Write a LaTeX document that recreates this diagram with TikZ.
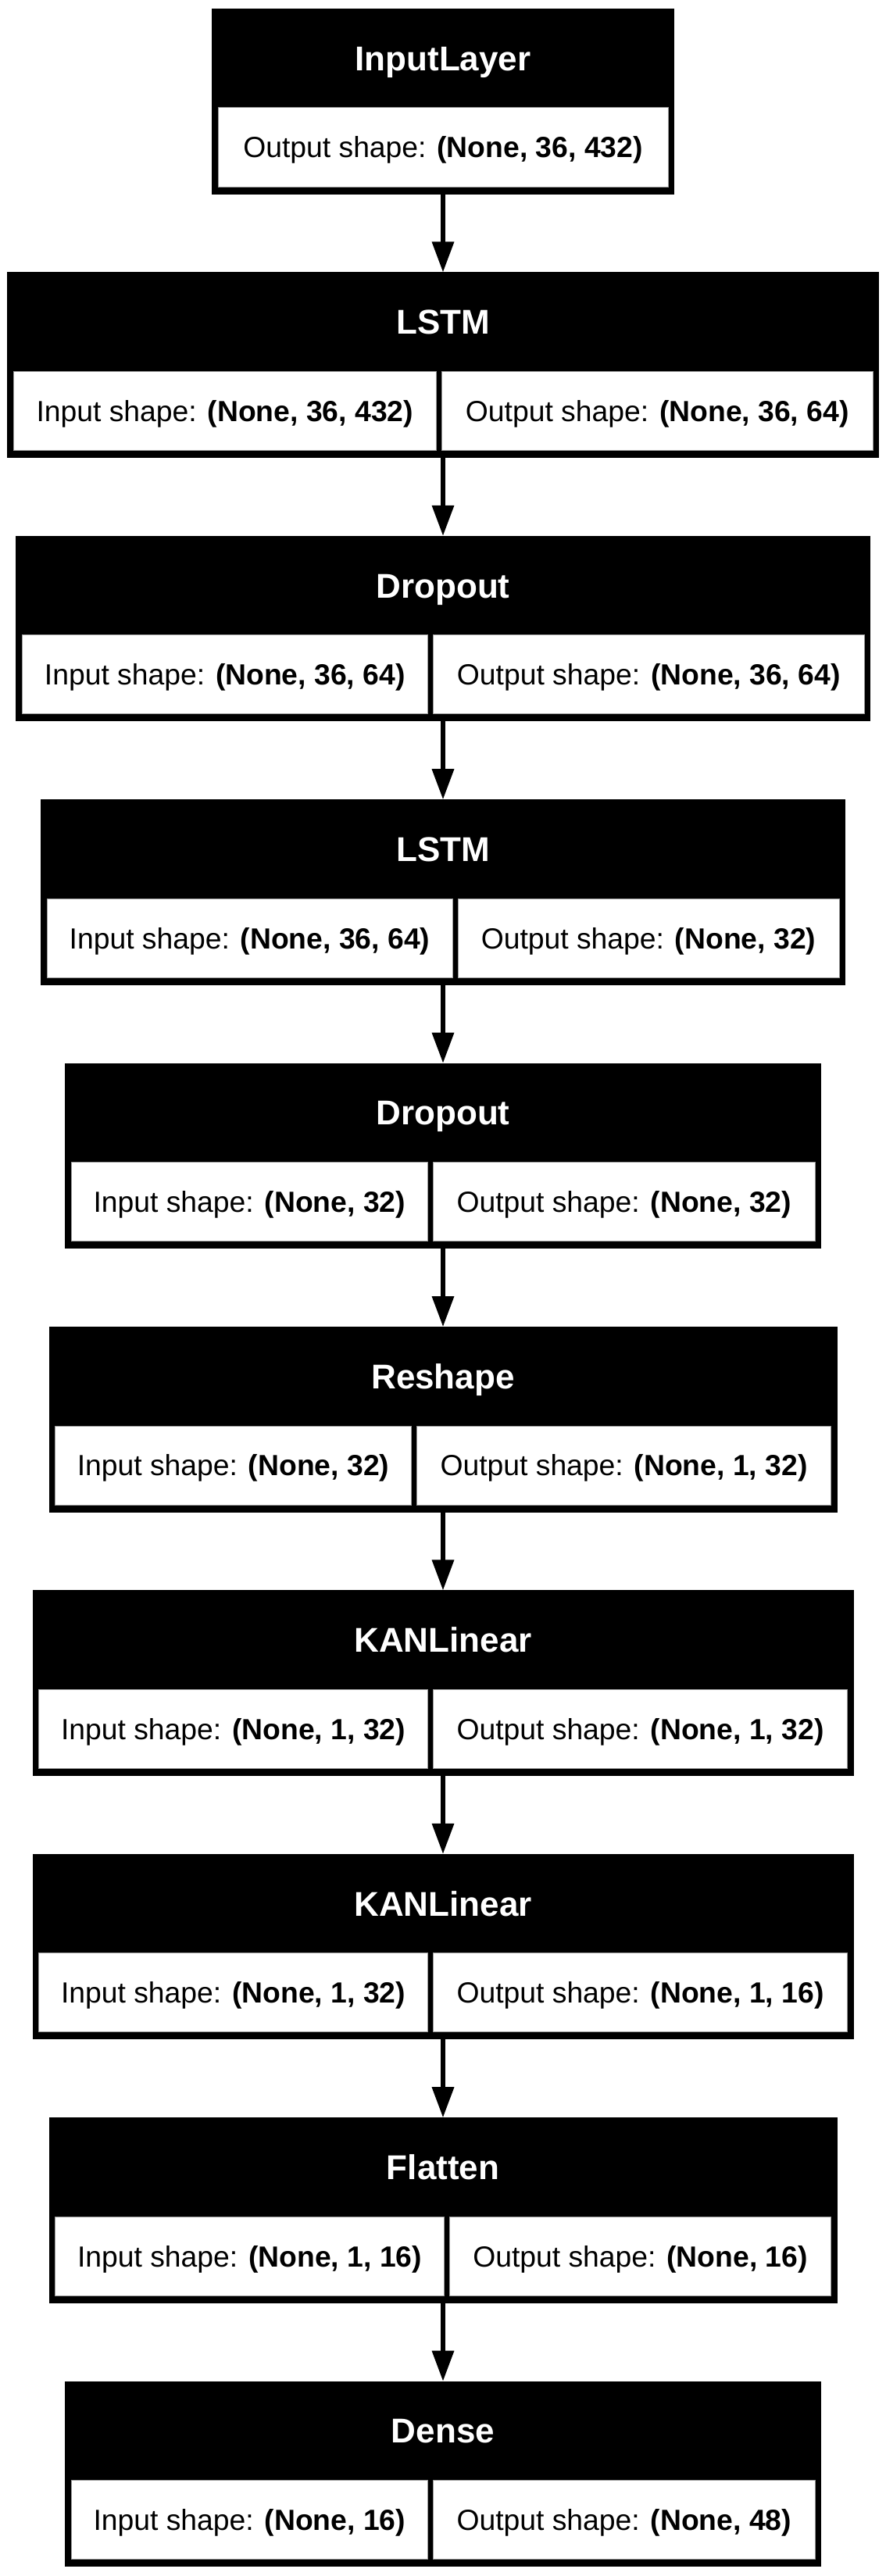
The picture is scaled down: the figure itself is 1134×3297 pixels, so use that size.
\documentclass[tikz,border=0pt]{standalone}
\usepackage{fontspec}
\setmainfont{Liberation Sans}
\usetikzlibrary{arrows.meta}
\newdimen\pxu \pxu=0.5pt
\tikzset{
  layerframe/.style={fill=black, draw=none, inner sep=0pt, outer sep=0pt, anchor=north west},
  layertitle/.style={text=white, font=\fontsize{22pt}{26pt}\selectfont\bfseries, inner sep=0pt, text height=15.75pt, text depth=0pt},
  shapecell/.style={fill=white, draw=black!40, line width=0.5pt, inner sep=0pt, outer sep=0pt, anchor=north west,
    font=\fontsize{18.65pt}{22pt}\selectfont, text height=13.4pt, text depth=0pt},
  flow/.style={line width=2.65pt, -{Triangle[length=19.5pt, width=13.7pt]}},
}
\newcommand\twocell[7]{% name, index, halfwidth, divider x, title, left text, right text
  \pgfmathsetmacro\tp{11+337.4*#2}
  \pgfmathsetmacro\lx{567-#3}
  \node[layerframe, minimum width=2*#3*\pxu, minimum height=237.5*\pxu] (#1) at (\lx,\tp) {};
  \node[layertitle] (#1-t) at (567,\tp+63.5) {#5};
  \node[shapecell, minimum width=(#4-3.5-\lx-8)*\pxu, minimum height=101*\pxu] (#1-in) at (\lx+8,\tp+127) {#6};
  \node[shapecell, minimum width=(567+#3-8-#4-3.5)*\pxu, minimum height=101*\pxu] (#1-out) at (#4+3.5,\tp+127) {#7};
}
\newcommand\onecell[5]{% name, index, halfwidth, title, text
  \pgfmathsetmacro\tp{11+337.4*#2}
  \pgfmathsetmacro\lx{567-#3}
  \node[layerframe, minimum width=2*#3*\pxu, minimum height=237.5*\pxu] (#1) at (\lx,\tp) {};
  \node[layertitle] (#1-t) at (567,\tp+63.5) {#4};
  \node[shapecell, minimum width=(2*#3-16)*\pxu, minimum height=101*\pxu] (#1-out) at (\lx+8,\tp+127) {#5};
}
\begin{document}
\begin{tikzpicture}[x=0.5pt, y=-0.5pt]
\useasboundingbox[fill=white] (0,0) rectangle (1134,3297);
\onecell{b0}{0}{296}{InputLayer}{Output shape: \textbf{(None, 36, 432)}}
\twocell{b1}{1}{558}{562}{LSTM}{Input shape: \textbf{(None, 36, 432)}}{Output shape: \textbf{(None, 36, 64)}}
\twocell{b2}{2}{547}{551}{Dropout}{Input shape: \textbf{(None, 36, 64)}}{Output shape: \textbf{(None, 36, 64)}}
\twocell{b3}{3}{515}{582.5}{LSTM}{Input shape: \textbf{(None, 36, 64)}}{Output shape: \textbf{(None, 32)}}
\twocell{b4}{4}{484}{551}{Dropout}{Input shape: \textbf{(None, 32)}}{Output shape: \textbf{(None, 32)}}
\twocell{b5}{5}{504.5}{530}{Reshape}{Input shape: \textbf{(None, 32)}}{Output shape: \textbf{(None, 1, 32)}}
\twocell{b6}{6}{525.5}{551}{KANLinear}{Input shape: \textbf{(None, 1, 32)}}{Output shape: \textbf{(None, 1, 32)}}
\twocell{b7}{7}{525.5}{551}{KANLinear}{Input shape: \textbf{(None, 1, 32)}}{Output shape: \textbf{(None, 1, 16)}}
\twocell{b8}{8}{504.5}{572}{Flatten}{Input shape: \textbf{(None, 1, 16)}}{Output shape: \textbf{(None, 16)}}
\twocell{b9}{9}{484}{551}{Dense}{Input shape: \textbf{(None, 16)}}{Output shape: \textbf{(None, 48)}}
\draw[flow] (b0.south) -- (b1.north);
\draw[flow] (b1.south) -- (b2.north);
\draw[flow] (b2.south) -- (b3.north);
\draw[flow] (b3.south) -- (b4.north);
\draw[flow] (b4.south) -- (b5.north);
\draw[flow] (b5.south) -- (b6.north);
\draw[flow] (b6.south) -- (b7.north);
\draw[flow] (b7.south) -- (b8.north);
\draw[flow] (b8.south) -- (b9.north);
\end{tikzpicture}
\end{document}
